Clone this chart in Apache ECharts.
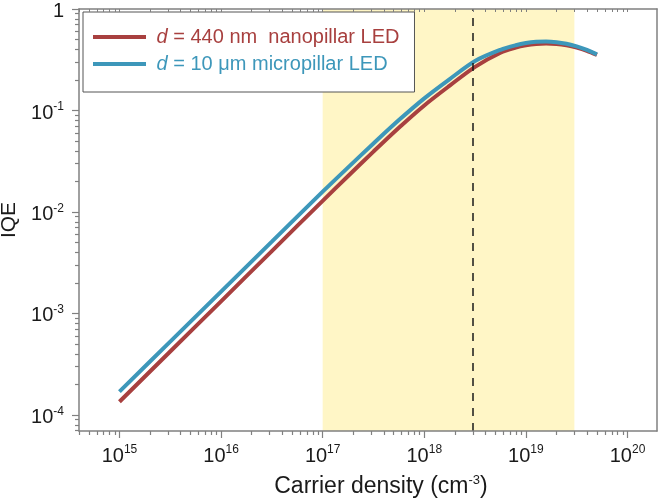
<!DOCTYPE html>
<html>
<head>
<meta charset="utf-8">
<script src="https://cdn.jsdelivr.net/npm/echarts@6/dist/echarts.min.js"></script>
<style>
html, body { margin: 0; padding: 0; background: #fff; }
#chart { width: 661px; height: 502px; }
</style>
</head>
<body>
<div id="chart"></div>
<script>
// carrier density (cm^-3)
var density = [1e15, 3.16e15, 1e16, 3.16e16, 1e17, 1.78e17, 3.16e17, 5.62e17, 1e18, 1.78e18, 3.16e18,
    5.62e18, 7.94e18, 1e19, 1.26e19, 1.58e19, 2e19, 2.51e19, 3.16e19, 3.98e19, 5e19]
// IQE, d = 440 nm nanopillar LED
var iqeNano = [1.349e-4, 4.22e-4, 1.318e-3, 4.12e-3, 1.288e-2, 2.265e-2, 3.936e-2, 6.76e-2, 0.1122, 0.1758, 0.2692,
    0.3707, 0.4163, 0.4385, 0.4523, 0.4571, 0.4523, 0.4385, 0.4163, 0.3873, 0.3527]
// IQE, d = 10 um micropillar LED
var iqeMicro = [1.698e-4, 5.28e-4, 1.641e-3, 5.10e-3, 1.585e-2, 2.754e-2, 4.73e-2, 8.04e-2, 0.1318, 0.2042, 0.3076,
    0.3963, 0.4397, 0.4621, 0.4753, 0.4784, 0.4712, 0.4543, 0.4284, 0.3955, 0.3571]

var xTickExps = [15, 16, 17, 18, 19, 20]
var yTickExps = [-4, -3, -2, -1, 0]
var xRange = [4e14, 1.95e20]
var yRange = [6.95e-5, 1]
var bandRange = [1e17, 3e19]
var markerDensity = 3e18

var nanoName = 'd = 440 nm  nanopillar LED'
var microName = 'd = 10 μm micropillar LED'

var RED = '#a8403f'
var BLUE = '#3d97ba'
var AXIS = '#808080'
var FONT = "'Liberation Sans', Arial, sans-serif"

var lg = Math.log10
var xMin = lg(xRange[0]), xMax = lg(xRange[1])
var yMin = lg(yRange[0]), yMax = lg(yRange[1])

function minorTicks(lo, hi) {
    var out = []
    for (var e = Math.floor(lo) - 1; e <= Math.ceil(hi); e++) {
        for (var k = 2; k <= 9; k++) {
            var v = e + lg(k)
            if (v >= lo && v <= hi) out.push(v)
        }
    }
    return out
}

function pairs(xs, ys) {
    return xs.map(function (x, i) { return [lg(x), lg(ys[i])] })
}

var xMinor = minorTicks(xMin, xMax)
var yMinor = minorTicks(yMin, yMax)

function blankAxis(extra) {
    var base = {
        type: 'value',
        z: 10,
        splitLine: { show: false },
        axisLabel: { show: false },
        axisLine: { show: false, onZero: false },
        axisTick: { show: false }
    }
    return Object.assign(base, extra)
}

var supRich = {
    sup: { fontSize: 12, lineHeight: 12, verticalAlign: 'top', fontFamily: FONT, color: '#1a1a1a' }
}

var option = {
    animation: false,
    textStyle: { fontFamily: FONT },
    grid: { left: 79, right: 4, top: 9, bottom: 71, containLabel: false, outerBoundsMode: 'none' },
    legend: {
        orient: 'vertical',
        left: 83,
        top: 12,
        padding: [14, 15, 17, 10],
        itemGap: 5,
        itemWidth: 53,
        itemHeight: 4,
        icon: 'rect',
        backgroundColor: '#fff',
        borderColor: '#555',
        borderWidth: 1,
        borderRadius: 0,
        data: [
            { name: nanoName, textStyle: { color: RED } },
            { name: microName, textStyle: { color: BLUE } }
        ],
        formatter: function (name) {
            var k = name === nanoName ? 'r' : 'b'
            return ' {i' + k + '|d}{' + k + '|' + name.slice(1) + '}'
        },
        textStyle: {
            fontSize: 20,
            lineHeight: 22,
            rich: {
                ir: { fontStyle: 'italic', color: RED, fontSize: 20, fontFamily: FONT },
                r: { color: RED, fontSize: 20, fontFamily: FONT },
                ib: { fontStyle: 'italic', color: BLUE, fontSize: 20, fontFamily: FONT },
                b: { color: BLUE, fontSize: 20, fontFamily: FONT }
            }
        }
    },
    xAxis: [
        {
            type: 'value', min: xMin, max: xMax, position: 'bottom', z: 10,
            splitLine: { show: false },
            axisLine: { onZero: false, lineStyle: { color: AXIS, width: 1.5 } },
            axisTick: { customValues: xTickExps, length: 7, lineStyle: { color: AXIS, width: 1.2 } },
            axisLabel: {
                customValues: xTickExps,
                margin: 13,
                fontSize: 20,
                lineHeight: 24,
                color: '#1a1a1a',
                formatter: function (v) { return '10{sup|' + Math.round(v) + '}' },
                rich: supRich
            },
            name: 'Carrier density (cm{sup|-3})',
            nameLocation: 'middle',
            nameGap: 43,
            nameTextStyle: {
                fontSize: 23, color: '#1a1a1a', padding: [0, 0, 0, 26], lineHeight: 26,
                rich: { sup: { fontSize: 13, lineHeight: 14, verticalAlign: 'top', color: '#1a1a1a', fontFamily: FONT } }
            }
        },
        blankAxis({
            min: xMin, max: xMax, position: 'bottom',
            axisTick: { show: true, customValues: xMinor, length: 4, lineStyle: { color: AXIS, width: 1.2 } }
        }),
        blankAxis({
            min: xMin, max: xMax, position: 'top',
            axisLine: { show: true, onZero: false, lineStyle: { color: AXIS, width: 1.5 } },
            axisTick: { show: true, inside: true, customValues: xTickExps.concat(xMinor), length: 3, lineStyle: { color: AXIS, width: 1 } }
        })
    ],
    yAxis: [
        {
            type: 'value', min: yMin, max: yMax, position: 'left', z: 10,
            splitLine: { show: false },
            axisLine: { onZero: false, lineStyle: { color: AXIS, width: 1.5 } },
            axisTick: { customValues: yTickExps, length: 7, lineStyle: { color: AXIS, width: 1.2 } },
            axisLabel: {
                customValues: yTickExps,
                margin: 15,
                fontSize: 20,
                lineHeight: 24,
                padding: [5, 0, 0, 0],
                color: '#1a1a1a',
                formatter: function (v) {
                    var e = Math.round(v)
                    return e === 0 ? '1' : '10{sup|' + e + '}'
                },
                rich: supRich
            },
            name: 'IQE',
            nameLocation: 'middle',
            nameGap: 47,
            nameTextStyle: { fontSize: 21, color: '#1a1a1a' }
        },
        blankAxis({
            min: yMin, max: yMax, position: 'left',
            axisTick: { show: true, customValues: yMinor, length: 4, lineStyle: { color: AXIS, width: 1.2 } }
        }),
        blankAxis({
            min: yMin, max: yMax, position: 'right',
            axisLine: { show: true, onZero: false, lineStyle: { color: AXIS, width: 1.5 } }
        })
    ],
    series: [
        {
            name: nanoName,
            type: 'line',
            xAxisIndex: 0,
            yAxisIndex: 0,
            symbol: 'none',
            smooth: 0.3,
            color: RED,
            lineStyle: { color: RED, width: 4 },
            data: pairs(density, iqeNano),
            markArea: {
                silent: true,
                itemStyle: { color: '#fff6c6' },
                data: [[{ xAxis: lg(bandRange[0]) }, { xAxis: lg(bandRange[1]) }]]
            },
            markLine: {
                silent: true,
                symbol: ['none', 'none'],
                label: { show: false },
                lineStyle: { color: '#1a1a1a', type: [8, 7], width: 1.5 },
                data: [{ xAxis: lg(markerDensity) }]
            }
        },
        {
            name: microName,
            type: 'line',
            xAxisIndex: 0,
            yAxisIndex: 0,
            symbol: 'none',
            smooth: 0.3,
            color: BLUE,
            lineStyle: { color: BLUE, width: 4 },
            data: pairs(density, iqeMicro)
        }
    ]
}

var chart = echarts.init(document.getElementById('chart'))
chart.setOption(option)
</script>
</body>
</html>
